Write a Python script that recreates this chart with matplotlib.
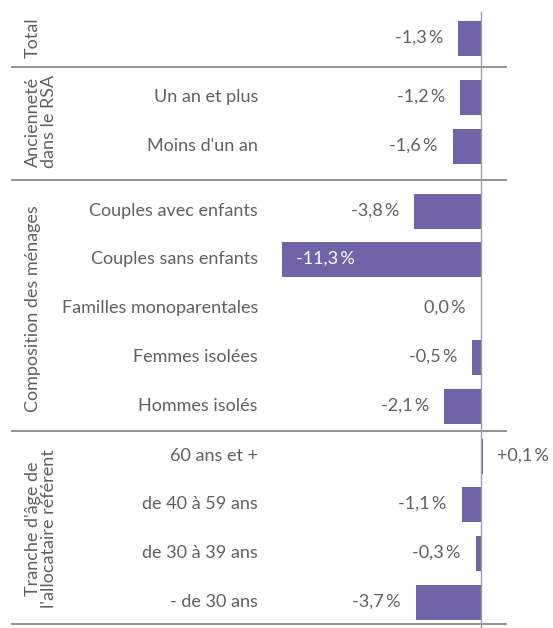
import matplotlib.pyplot as plt

plt.rcParams['font.family'] = ['Lato', 'DejaVu Sans']

categories = ["Total", "Un an et plus", "Moins d'un an",
              "Couples avec enfants", "Couples sans enfants",
              "Familles monoparentales", "Femmes isolées", "Hommes isolés",
              "60 ans et +", "de 40 à 59 ans", "de 30 à 39 ans", "- de 30 ans"]
values = [-1.3, -1.2, -1.6, -3.8, -11.3, 0.0, -0.5, -2.1, 0.1, -1.1, -0.3, -3.7]
groups = ["Total", "Ancienneté\ndans le RSA", "Composition des ménages",
          "Tranche d'âge de\nl'allocataire référent"]
group_sizes = [1, 2, 5, 4]

# layout (pixel rows, top to bottom)
row_y = [38, 97, 146, 211, 259, 308, 357, 406, 456, 504, 553, 602]
sep_y = [67, 180, 431, 624]
group_x = [33, 41, 33, 41]

W, H = 553, 628
bar_col = '#7163a8'
txt_col = '#606060'
fs = 13

fig = plt.figure(figsize=(W / 100, H / 100), dpi=100)
ax = fig.add_axes([0, 0, 1, 1])
px = 17.6  # pixels per percentage point
zero = 481
ax.set_xlim(-zero / px, (W - zero) / px)
ax.set_ylim(H, 0)
ax.axis('off')

ax.barh(row_y, values, height=35, color=bar_col, zorder=2)
ax.plot([0, 0], [12, H], color='#a0a0a0', lw=1, zorder=3)

yt = ax.get_yaxis_transform()
for y, c, v in zip(row_y, categories, values):
    if c != "Total":
        ax.text(258 / W, y, c, transform=yt, ha='right', va='center',
                fontsize=fs, color=txt_col)
    lab = ('+' if v > 0 else '') + f"{v:.1f}".replace('.', ',') + '\u2009%'
    if v > 0:
        ax.annotate(lab, (v, y), xytext=(14, 0), textcoords='offset pixels',
                    ha='left', va='center', fontsize=fs, color=txt_col)
    elif v < -8:
        ax.annotate(lab, (v, y), xytext=(14, 0), textcoords='offset pixels',
                    ha='left', va='center', fontsize=fs,
                    color='white', zorder=4)
    else:
        ax.annotate(lab, (v, y), xytext=(-15, 0), textcoords='offset pixels',
                    ha='right', va='center', fontsize=fs, color=txt_col)

start = 0
for g, n, gx in zip(groups, group_sizes, group_x):
    ys = row_y[start:start + n]
    start += n
    ax.text(gx / W, (ys[0] + ys[-1]) / 2, g, transform=yt, rotation=90,
            ha='center', va='center', multialignment='center',
            fontsize=fs, color=txt_col, linespacing=1.05)

for y in sep_y:
    ax.plot([12 / W, 506 / W], [y, y], transform=yt, color='#8a8a8a',
            lw=1.3, clip_on=False)

fig.savefig('out.png', dpi=100)
